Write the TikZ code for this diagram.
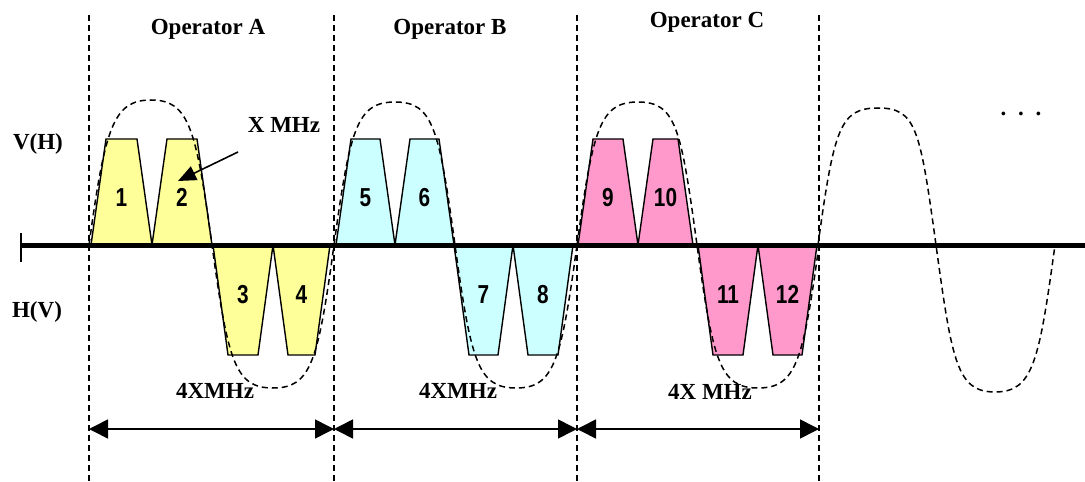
\documentclass[tikz,border=0pt]{standalone}
\usepackage{fontspec}
\setmainfont{Liberation Serif}
\newfontfamily\bandfont[FakeStretch=0.8]{Liberation Sans}
\usetikzlibrary{arrows.meta}

\definecolor{bandA}{HTML}{FFFF99}
\definecolor{bandB}{HTML}{CCFFFF}
\definecolor{bandC}{HTML}{FF99CC}

\tikzset{
	band/.style={draw=black, line width=1.4pt},
	bandnum/.style={font=\bandfont\fontsize{26}{28}\selectfont\bfseries},
	caption/.style={font=\fontsize{23}{26}\selectfont\bfseries},
	envelope/.style={line width=1.5pt, dash pattern=on 6pt off 4pt},
	divider/.style={line width=1.5pt, dash pattern=on 6pt off 4pt},
	axisline/.style={line width=5pt},
	spanarrow/.style={line width=1.6pt, {Triangle[length=19pt,width=19pt]}-{Triangle[length=19pt,width=19pt]}},
	pointer/.style={line width=1.6pt, -{Triangle[length=18pt,width=15pt]}}
}

\begin{document}
\begin{tikzpicture}[x=1pt,y=1pt]
	\useasboundingbox (0,-237) rectangle (1085,245);
	% channel bands
	\foreach \xa/\xb/\h/\col/\num in {91/152/106/bandA/1, 152/212/106/bandA/2, 213/273/-110/bandA/3, 273/330/-110/bandA/4,
		336/395/106/bandB/5, 395/454/106/bandB/6, 454/513/-110/bandB/7, 513/573/-110/bandB/8,
		578/638/106/bandC/9, 638/693/106/bandC/10, 698/758/-110/bandC/11, 758/817/-110/bandC/12}
	{
		\filldraw[band, fill=\col] (\xa,0) -- (\xa+15,\h) -- (\xb-15,\h) -- (\xb,0) -- cycle;
		\node[bandnum] (n\num) at ({(\xa+\xb)/2},{\h*0.45}) {\num};
	}
	% envelopes
	\foreach \xs/\xt/\xm/\xb/\xe/\yt/\yb in {89/151/212/273/334/145/-143, 334/395/455/516/577/143/-143,
		577/638/697/758/819/143/-143, 818/878/936/995/1055/137/-147}
		\draw[envelope] (\xs,0) .. controls +(16,117) and +(-38,0) .. (\xt,\yt)
			.. controls +(38,0) and +(-16,117) .. (\xm,0)
			.. controls +(16,-117) and +(-38,0) .. (\xb,\yb)
			.. controls +(38,0) and +(-16,-117) .. (\xe,0);
	% operator borders
	\foreach \x/\nm in {89/dA, 334/dB, 577/dC, 819/dD}
	{
		\draw[divider] (\x,230) -- (\x,-237);
		\coordinate (\nm) at (\x,-184);
	}
	% axis
	\coordinate (axL) at (20,0);
	\coordinate (axR) at (1085,0);
	\draw[axisline] (axL) -- (axR);
	\draw[line width=2pt] (axL) ++(1,12) -- ++(0,-29);
	% bandwidths
	\draw[spanarrow] (dA) -- (dB);
	\draw[spanarrow] (dB) -- (dC);
	\draw[spanarrow] (dC) -- (dD);
	% texts
	\node[caption] (opA) at (208,216) {Operator A};
	\node[caption] (opB) at (450,216) {Operator B};
	\node[caption] (opC) at (707,223) {Operator C};
	\node[caption] (vh) at (38,101) {V(H)};
	\node[caption] (hv) at (37,-67) {H(V)};
	\node[caption] (xmhz) at (284,120) {X MHz};
	\node[caption] (bwA) at (215,-146) {4XMHz};
	\node[caption] (bwB) at (458,-146) {4XMHz};
	\node[caption] (bwC) at (710,-147) {4X MHz};
	\node[caption, anchor=base] (more) at (1021,129) {.\hspace{11.75pt}.\hspace{11.75pt}.};
	\coordinate (xtail) at (238,93);
	\coordinate (xtip) at (178,64);
	\draw[pointer] (xtail) -- (xtip);
\end{tikzpicture}
\end{document}
